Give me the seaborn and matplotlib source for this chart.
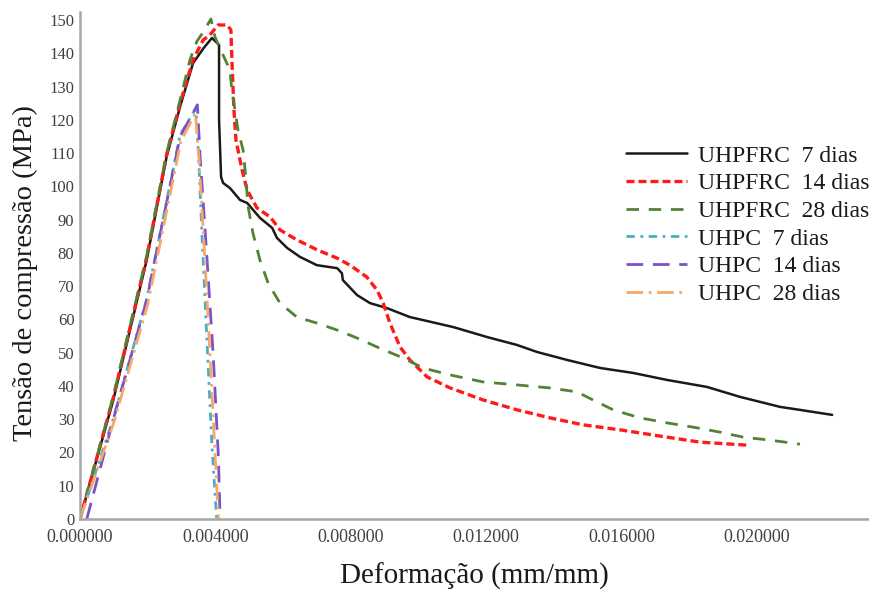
import matplotlib
matplotlib.use("Agg")
import matplotlib.pyplot as plt
import seaborn as sns
import pandas as pd

# ---- data (strain mm/mm, stress MPa) ----
uhpfrc7_x = [0.0, 0.000985, 0.00197, 0.00256, 0.00296, 0.00334, 0.00365, 0.00390, 0.00411, 0.00411,
             0.00417, 0.00423, 0.00443, 0.00473, 0.00494, 0.00532, 0.00568, 0.00582, 0.00612,
             0.00650, 0.00700, 0.00760, 0.00774, 0.00777, 0.00819, 0.00857, 0.00907, 0.00975,
             0.01103, 0.01203, 0.01292, 0.01351, 0.01440, 0.01537, 0.01635, 0.01735, 0.01853,
             0.01951, 0.02069, 0.02128, 0.02223]
uhpfrc7_y = [0.0, 35.8, 77.8, 108.9, 124.0, 137.0, 141.5, 144.6, 142.5, 119.9,
             102.8, 101.0, 99.5, 95.9, 95.0, 90.5, 87.5, 84.5, 81.5,
             78.8, 76.3, 75.4, 73.9, 71.8, 67.3, 64.9, 63.4, 60.7,
             57.7, 54.7, 52.3, 50.2, 47.8, 45.4, 43.9, 41.8, 39.7,
             36.7, 33.7, 32.8, 31.3]

uhpfrc14_x = [0.0, 0.000985, 0.00197, 0.00256, 0.00296, 0.00334, 0.00364, 0.00384, 0.00408,
              0.00435, 0.00446, 0.00449, 0.00455, 0.00461, 0.00473, 0.00479, 0.00494, 0.00523,
              0.00562, 0.00591, 0.00641, 0.00701, 0.00760, 0.00798, 0.00848, 0.00878, 0.00896,
              0.00916, 0.00946, 0.00975, 0.01026, 0.01094, 0.01191, 0.01292, 0.01389, 0.01487,
              0.01596, 0.01735, 0.01833, 0.01972]
uhpfrc14_y = [0.0, 36.5, 78.5, 109.5, 125.0, 138.0, 144.0, 145.5, 148.5,
              148.5, 147.0, 138.0, 122.9, 113.9, 107.9, 104.9, 98.9, 93.5,
              90.8, 86.9, 83.9, 80.9, 78.4, 76.3, 72.7, 68.8, 64.9,
              58.9, 51.7, 47.8, 42.7, 39.4, 35.8, 32.8, 30.4, 28.3,
              26.8, 24.6, 23.1, 22.2]

uhpfrc28_x = [0.0, 0.000985, 0.00197, 0.00256, 0.00296, 0.00325, 0.00345, 0.00365, 0.00387,
              0.00399, 0.00420, 0.00443, 0.00449, 0.00458, 0.00467, 0.00482, 0.00488, 0.00497,
              0.00511, 0.00532, 0.00556, 0.00591, 0.00641, 0.00700, 0.00760, 0.00819, 0.00878,
              0.00955, 0.01014, 0.01094, 0.01191, 0.01292, 0.01389, 0.01469, 0.01516, 0.01576,
              0.01655, 0.01735, 0.01824, 0.01892, 0.01960, 0.02040, 0.02128]
uhpfrc28_y = [0.0, 37.0, 79.0, 110.0, 126.0, 138.0, 143.5, 146.5, 150.3,
              144.9, 140.1, 135.0, 128.9, 122.9, 116.9, 110.9, 104.9, 93.8,
              86.0, 77.8, 70.9, 64.9, 60.7, 58.9, 56.8, 54.4, 51.7,
              48.4, 45.4, 43.3, 41.2, 40.3, 39.4, 38.2, 35.8, 32.8,
              30.4, 28.9, 27.4, 26.1, 24.6, 23.7, 22.5]

uhpc7_x = [0.0, 0.00098, 0.00197, 0.00296, 0.00343, 0.00350, 0.00362, 0.00376, 0.00390, 0.00404]
uhpc7_y = [0.0, 30.0, 66.0, 115.5, 123.5, 110.0, 82.0, 52.0, 22.0, 0.0]

uhpc14_x = [0.0002, 0.00098, 0.00197, 0.00296, 0.00347, 0.00355, 0.00375, 0.00394, 0.00409, 0.00414]
uhpc14_y = [0.0, 29.8, 65.8, 115.0, 124.5, 108.9, 78.8, 48.8, 18.7, 0.0]

uhpc28_x = [0.0, 0.00100, 0.00200, 0.00298, 0.00341, 0.00352, 0.00368, 0.00382, 0.00396, 0.00409]
uhpc28_y = [0.0, 29.0, 64.5, 113.5, 122.0, 108.0, 80.0, 54.0, 26.0, 0.0]

labels = ["UHPFRC  7 dias", "UHPFRC  14 dias", "UHPFRC  28 dias",
          "UHPC  7 dias", "UHPC  14 dias", "UHPC  28 dias"]
x_ticks = [0.0, 0.004, 0.008, 0.012, 0.016, 0.020]
y_ticks = list(range(0, 151, 10))

series = [
    (uhpfrc7_x, uhpfrc7_y, "#1a1a1a", "-", 1.8),
    (uhpfrc14_x, uhpfrc14_y, "#ff1a1a", (0, (2.4, 1.2)), 2.4),
    (uhpfrc28_x, uhpfrc28_y, "#548235", (0, (4.5, 3.5)), 2.0),
    (uhpc7_x, uhpc7_y, "#4bacc6", (0, (3, 2, 1, 2)), 2.0),
    (uhpc14_x, uhpc14_y, "#7b52c8", (0, (6, 3.5)), 2.0),
    (uhpc28_x, uhpc28_y, "#f7a865", (0, (6, 2, 1, 2)), 2.0),
]

sns.set_theme(style="white")
plt.rcParams["font.family"] = ["Liberation Serif", "DejaVu Serif"]

fig = plt.figure(figsize=(8.7, 5.89), dpi=100)
ax = fig.add_axes([80 / 870, 1 - 519 / 589, (868 - 80) / 870, (519 - 12) / 589])

for (xs, ys, col, ls, lw), lab in zip(series, labels):
    df = pd.DataFrame({"x": xs, "y": ys})
    sns.lineplot(data=df, x="x", y="y", sort=False, estimator=None, ax=ax,
                 color=col, linestyle=ls, linewidth=lw, label=lab)

ax.set_xlim(0, 0.02329)
ax.set_ylim(0, 152.4)
ax.set_xticks(x_ticks)
ax.set_xticklabels([f"{v:.6f}" for v in x_ticks])
ax.set_yticks(y_ticks)
ax.tick_params(axis="both", length=0, colors="#404040", pad=4)
ax.tick_params(axis="x", labelsize=13, pad=7)
ax.tick_params(axis="y", labelsize=12)
for s in ["top", "right"]:
    ax.spines[s].set_visible(False)
for s in ["left", "bottom"]:
    ax.spines[s].set_color("#a6a6a6")
    ax.spines[s].set_linewidth(1.8)

ax.set_xlabel("Deformação (mm/mm)", fontsize=21, color="#1a1a1a", labelpad=12)
ax.set_ylabel("Tensão de compressão (MPa)", fontsize=20.5, color="#1a1a1a")
ax.yaxis.set_label_coords(-0.053, 0.486)

leg = ax.legend(loc="upper left", bbox_to_anchor=(626 / 870, 1 - 145 / 589),
                bbox_transform=fig.transFigure, frameon=False, fontsize=17,
                handlelength=2.6, handletextpad=0.45, labelspacing=0.26, borderpad=0,
                borderaxespad=0)
for t in leg.get_texts():
    t.set_color("#1a1a1a")

fig.savefig("out.png", dpi=100)
